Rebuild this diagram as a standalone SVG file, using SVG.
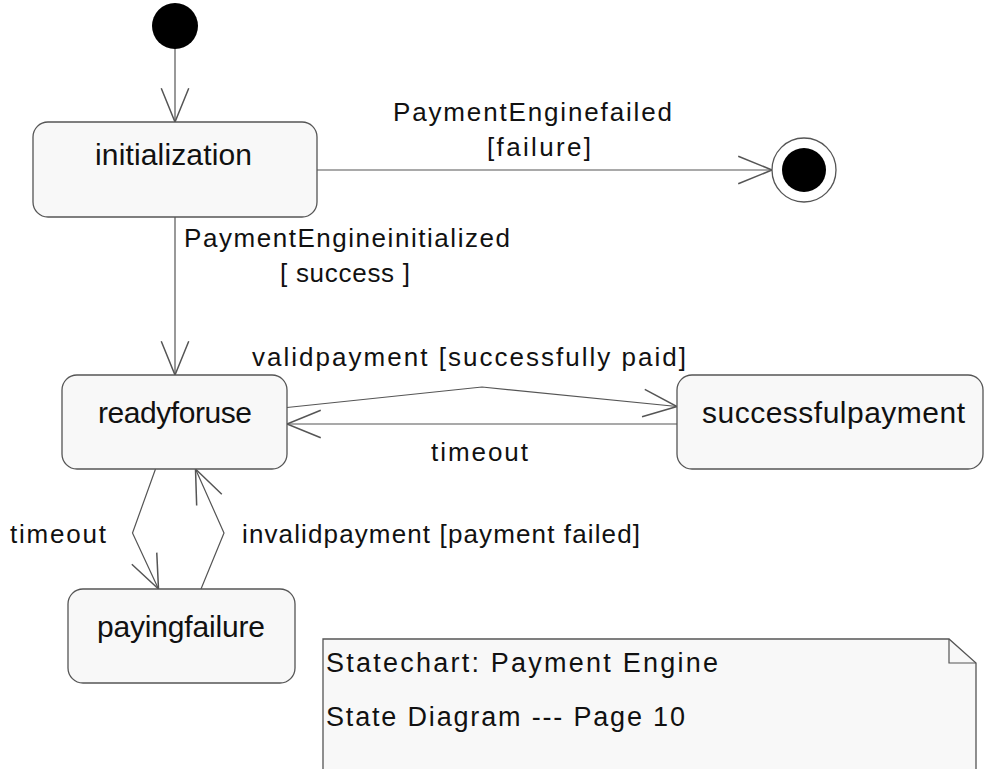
<svg xmlns="http://www.w3.org/2000/svg" width="984" height="769" viewBox="0 0 984 769">
<style>
  .box { fill: #f8f8f8; stroke: #555555; stroke-width: 1.3; }
  .conn { fill: none; stroke: #555555; stroke-width: 1.2; }
  .ntext { font-family: "Liberation Sans", Arial, sans-serif; font-size: 30px; fill: #111111; }
  .ltext { font-family: "Liberation Sans", Arial, sans-serif; font-size: 26px; fill: #111111; }
  .notetext { font-family: "Liberation Sans", Arial, sans-serif; font-size: 27px; fill: #111111; }
</style>
<defs>
  <marker id="arrow" markerUnits="userSpaceOnUse" markerWidth="40" markerHeight="40" refX="0" refY="0" viewBox="-30 -15 32 30" orient="auto" overflow="visible">
    <path d="M -27 -11 L 0 0 L -27 11" fill="none" stroke="#555555" stroke-width="1.2"/>
  </marker>
</defs>
<rect width="984" height="769" fill="#ffffff"/>

<g id="connectors">
  <line class="conn" x1="175" y1="48" x2="175" y2="122" marker-end="url(#arrow)"/>
  <line class="conn" x1="317" y1="170" x2="772" y2="170" marker-end="url(#arrow)"/>
  <line class="conn" x1="175" y1="217" x2="175" y2="375" marker-end="url(#arrow)"/>
  <polyline class="conn" points="287,407.5 482,387 677,406.5" marker-end="url(#arrow)"/>
  <line class="conn" x1="677" y1="424" x2="287" y2="424" marker-end="url(#arrow)"/>
  <polyline class="conn" points="155.5,469 132.5,533 158.5,589" marker-end="url(#arrow)"/>
  <polyline class="conn" points="201,589 224,533 195.5,469" marker-end="url(#arrow)"/>
  <text class="ltext" x="393" y="121" textLength="279">PaymentEnginefailed</text>
  <text class="ltext" x="487" y="156" textLength="104">[failure]</text>
  <text class="ltext" x="184" y="247" textLength="326">PaymentEngineinitialized</text>
  <text class="ltext" x="280" y="282" textLength="130">[ success ]</text>
  <text class="ltext" x="252" y="366" textLength="434">validpayment [successfully paid]</text>
  <text class="ltext" x="431" y="461" textLength="97">timeout</text>
  <text class="ltext" x="10" y="543" textLength="96">timeout</text>
  <text class="ltext" x="242" y="543" textLength="398">invalidpayment [payment failed]</text>
</g>

<g id="initial">
  <circle cx="175" cy="26" r="23" fill="#000000"/>
</g>

<g id="final">
  <circle cx="804" cy="170" r="32" fill="#ffffff" stroke="#555555" stroke-width="1.3"/>
  <circle cx="804" cy="170" r="22" fill="#000000"/>
</g>

<g id="initialization">
  <rect class="box" x="33" y="122" width="284" height="95" rx="15" ry="15"/>
  <text class="ntext" x="95" y="165" textLength="157">initialization</text>
</g>

<g id="readyforuse">
  <rect class="box" x="62" y="375" width="225" height="94" rx="15" ry="15"/>
  <text class="ntext" x="98" y="423" textLength="154">readyforuse</text>
</g>

<g id="successfulpayment">
  <rect class="box" x="677" y="375" width="306" height="94" rx="15" ry="15"/>
  <text class="ntext" x="702" y="423" textLength="263">successfulpayment</text>
</g>

<g id="payingfailure">
  <rect class="box" x="68" y="589" width="227" height="94" rx="15" ry="15"/>
  <text class="ntext" x="97" y="637" textLength="168">payingfailure</text>
</g>

<g id="note">
  <path class="box" d="M 323 780 L 323 639 L 949 639 L 976 663 L 976 780"/>
  <path d="M 949 639 L 949 663 L 976 663" fill="none" stroke="#555555" stroke-width="1.2"/>
  <text class="notetext" x="326" y="672" textLength="392">Statechart: Payment Engine</text>
  <text class="notetext" x="326" y="726" textLength="359">State Diagram --- Page 10</text>
</g>
</svg>
